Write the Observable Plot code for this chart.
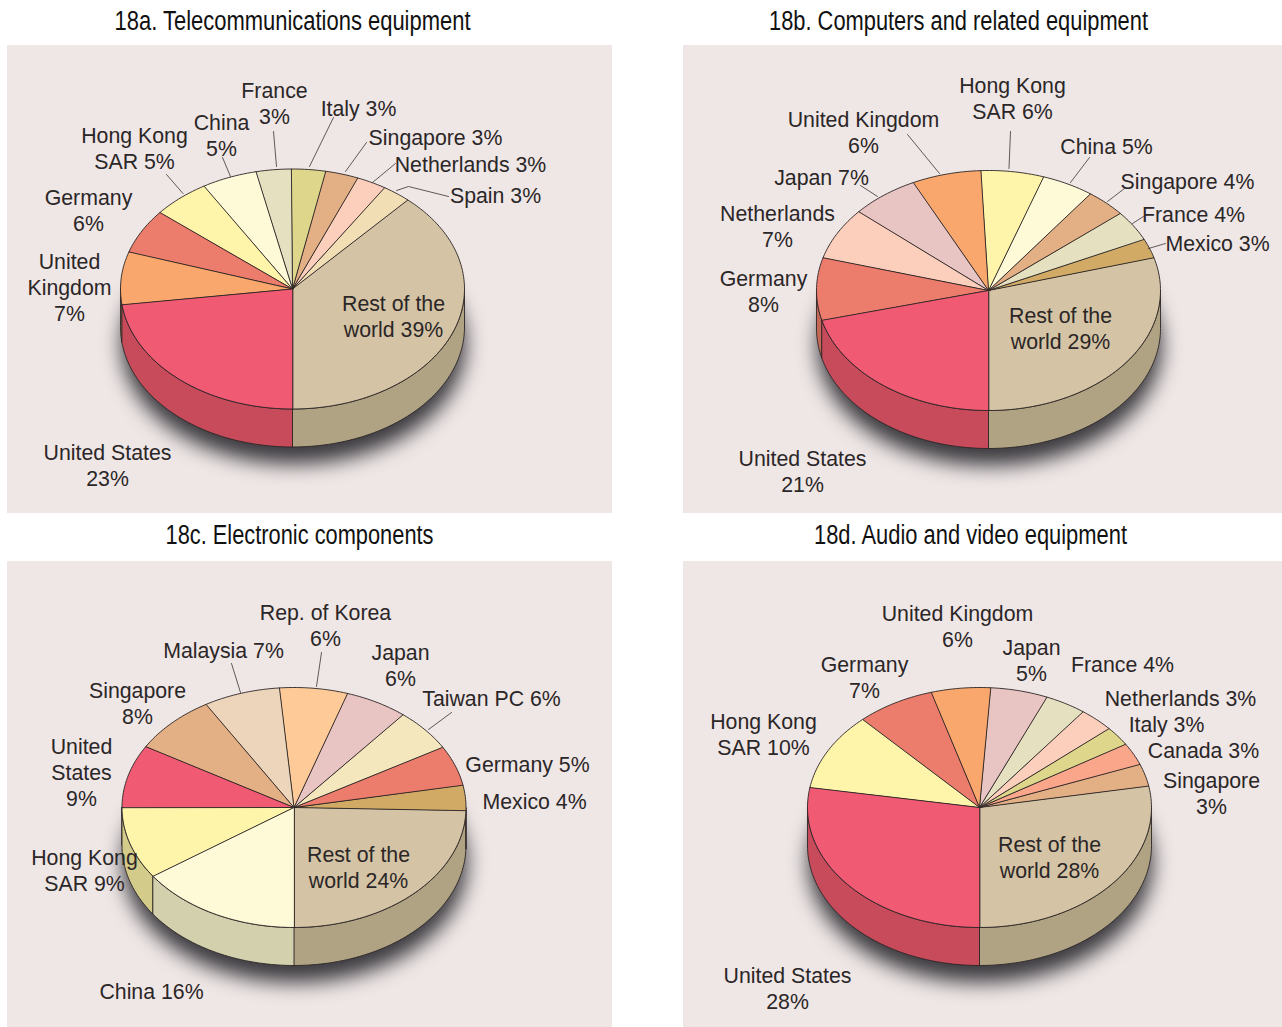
<!DOCTYPE html>
<html>
<head>
<meta charset="utf-8">
<style>html,body{margin:0;padding:0;background:#fff}svg{display:block}</style>
<script src="https://cdn.jsdelivr.net/npm/d3@7"></script>
<script src="https://cdn.jsdelivr.net/npm/@observablehq/plot@0.6"></script>
</head>
<body>
<div id="chart"></div>
<script>
// ---- Data: slice order runs counter-clockwise from the front of each pie.
// Shares (the labels show them rounded). ----
const namesA = ["Rest of the world","Spain","Netherlands","Singapore","Italy","France","China","Hong Kong SAR","Germany","United Kingdom","United States"];
const valuesA = [38.3,2.7,2.8,3.1,3.2,3.3,5.2,5.4,6.0,7.1,22.9];
const namesB = ["Rest of the world","Mexico","France","Singapore","China","Hong Kong SAR","United Kingdom","Japan","Netherlands","Germany","United States"];
const valuesB = [29.4,2.6,4.1,3.8,4.9,5.9,6.5,6.4,7.0,8.4,21.0];
const namesC = ["Rest of the world","Mexico","Germany","Taiwan PC","Japan","Rep. of Korea","Malaysia","Singapore","United States","Hong Kong SAR","China"];
const valuesC = [24.6,3.4,5.4,5.7,5.9,6.4,7.2,8.0,8.5,9.7,15.3];
const namesD = ["Rest of the world","Singapore","Canada","Italy","Netherlands","France","Japan","United Kingdom","Germany","Hong Kong SAR","United States"];
const valuesD = [28.0,3.0,3.0,2.6,3.3,3.9,5.4,5.6,7.4,10.5,27.8];

const titles = ["18a. Telecommunications equipment","18b. Computers and related equipment","18c. Electronic components","18d. Audio and video equipment"];

const labelsA = ["Rest of the\nworld 39%","Spain 3%","Netherlands 3%","Singapore 3%","Italy 3%","France\n3%","China\n5%","Hong Kong\nSAR 5%","Germany\n6%","United\nKingdom\n7%","United States\n23%"];
const labelsB = ["Rest of the\nworld 29%","Mexico 3%","France 4%","Singapore 4%","China 5%","Hong Kong\nSAR 6%","United Kingdom\n6%","Japan 7%","Netherlands\n7%","Germany\n8%","United States\n21%"];
const labelsC = ["Rest of the\nworld 24%","Mexico 4%","Germany 5%","Taiwan PC 6%","Japan\n6%","Rep. of Korea\n6%","Malaysia 7%","Singapore\n8%","United\nStates\n9%","Hong Kong\nSAR 9%","China 16%"];
const labelsD = ["Rest of the\nworld 28%","Singapore\n3%","Canada 3%","Italy 3%","Netherlands 3%","France 4%","Japan\n5%","United Kingdom\n6%","Germany\n7%","Hong Kong\nSAR 10%","United States\n28%"];

// ---- Colours ----
const colorOf = {
  "Rest of the world":"#d4c4a5","United States":"#f05a72","United Kingdom":"#f9a76c","Germany":"#ec7c6b",
  "Hong Kong SAR":"#fef5ab","China":"#fefad8","Singapore":"#e3af85","Netherlands":"#fccfbc","Japan":"#e8c4c3",
  "Mexico":"#d1ab65","Malaysia":"#edd5bc","Rep. of Korea":"#fecb98","Taiwan PC":"#f4e6bd","Canada":"#f9a68b",
  "France":"#e5e0bf","Italy":"#ddd68b","Spain":"#f1deb5"
};

// ---- Layout ----
const panelBoxes = [[7,612,45,513],[683,1282,45,513],[7,612,561,1027],[683,1282,561,1027]];
const pieCentres = [[292,288.5],[988,290],[293.5,807],[979,807]];
const rx = 172, ry = 120, depth = 38;
const titleX = [292,958,299,970], titleY = [21,21,535,535];
const titleWidths = [356,379,268,313];

const labelXA = [393,495,470,435,358,274,221,134,88,69,107];
const labelYA = [315,194,163,136,107,102,134,147,209,286,464];
const labelXB = [1060,1217,1193,1187,1106,1012,863,821,777,763,802];
const labelYB = [327,242,213,180,145,97,131,176,225,290,470];
const labelXC = [358,534,527,491,400,325,223,137,81,84,151];
const labelYC = [866,800,763,697,664,624,649,702,771,869,990];
const labelXD = [1049,1211,1203,1166,1180,1122,1031,957,864,763,787];
const labelYD = [856,792,749,723,697,663,659,625,676,733,987];

const leaders = [
  [[273,131],[276,166]],[[333,117],[309,166]],[[366,142],[345,171]],[[395,163],[372,182]],
  [[448,196],[408,186],[396,190]],[[222,157],[230,176]],[[166,174],[182.5,193]],
  [[907,134],[939,173]],[[1010,131],[1008.5,168]],[[1089,157],[1070,182]],[[1124,188],[1107,201]],
  [[1143,216],[1132,223]],[[1165,243],[1148,248]],[[860,185],[877,196]],
  [[321,652],[316,686]],[[231,663],[240,692]],[[451,712],[428,729]]
];

// ---- Build pie geometry from the values ----
const panels = [
  {names:namesA, values:valuesA, labels:labelsA, lx:labelXA, ly:labelYA},
  {names:namesB, values:valuesB, labels:labelsB, lx:labelXB, ly:labelYB},
  {names:namesC, values:valuesC, labels:labelsC, lx:labelXC, ly:labelYC},
  {names:namesD, values:valuesD, labels:labelsD, lx:labelXD, ly:labelYD}
];
const rad = d => d * Math.PI / 180;
function arc(c, a0, a1, dy = 0) {
  const n = Math.max(1, Math.ceil(Math.abs(a1 - a0) / 1.5));
  return d3.range(n + 1).map(i => {
    const a = rad(a0 + (a1 - a0) * i / n);
    return {x: c[0] + rx * Math.cos(a), y: c[1] - ry * Math.sin(a) + dy};
  });
}
function darker(color) {
  const c = d3.rgb(color);
  return d3.rgb(c.r * 0.83, c.g * 0.83, c.b * 0.8).formatHex();
}
const tops = [], walls = [], shadows = [], texts = [];
panels.forEach((p, pi) => {
  const c = pieCentres[pi], total = d3.sum(p.values);
  let acc = 0;
  p.values.forEach((v, i) => {
    const a0 = -90 + 360 * acc / total, a1 = a0 + 360 * v / total;
    acc += v;
    const id = `${pi}-${i}`, color = colorOf[p.names[i]];
    [{x:c[0], y:c[1]}, ...arc(c, a0, a1)].forEach(q => tops.push({...q, id, color}));
    [[-90,0],[180,270]].forEach(([lo, hi], k) => {
      const s = Math.max(a0, lo), e = Math.min(a1, hi);
      if (e > s) {
        [...arc(c, s, e), ...arc(c, e, s, depth)].forEach(q => walls.push({...q, id:`${id}-${k}`, color: darker(color)}));
      }
    });
    texts.push({text:p.labels[i], x:p.lx[i], y:p.ly[i]});
  });
  arc([c[0] + 1, c[1] + 17], 0, 360, depth).forEach(q => shadows.push({...q, id:pi}));
});
const boxes = panelBoxes.map(([x1,x2,y1,y2]) => ({x1,x2,y1,y2}));
const leaderPts = leaders.flatMap((pts, id) => pts.map(([x,y]) => ({x,y,id})));
const titleRows = titles.map((text,i) => ({text, x:titleX[i], y:titleY[i]}));

const chart = Plot.plot({
  width:1282, height:1027, margin:0,
  x:{domain:[0,1282], range:[0,1282], axis:null},
  y:{domain:[0,1027], range:[0,1027], axis:null},
  color:{type:"identity"},
  style:{background:"#fff"},
  marks:[
    Plot.rect(boxes, {x1:"x1", x2:"x2", y1:"y1", y2:"y2", fill:"#efe7e6"}),
    Plot.line(shadows, {x:"x", y:"y", z:"id", fill:"#1c1c22", stroke:"none", curve:"linear-closed", imageFilter:"blur(10px)", fillOpacity:0.85}),
    Plot.line(walls, {x:"x", y:"y", z:"id", fill:"color", stroke:"#2d2626", strokeWidth:0.9, curve:"linear-closed"}),
    Plot.line(tops, {x:"x", y:"y", z:"id", fill:"color", stroke:"#2d2626", strokeWidth:0.9, curve:"linear-closed"}),
    Plot.line(leaderPts, {x:"x", y:"y", z:"id", stroke:"#3a3434", strokeWidth:0.8}),
    Plot.text(texts, {x:"x", y:"y", text:"text", fontSize:21.3, lineHeight:1.22, fill:"#2b2627", fontFamily:"'Liberation Sans',Arial,sans-serif", textAnchor:"middle", lineAnchor:"middle"}),
    Plot.text(titleRows, {x:"x", y:"y", text:"text", fontSize:27, fill:"#111", fontFamily:"'Liberation Sans',sans-serif", textAnchor:"middle", lineAnchor:"middle",
      render(index, scales, values, dimensions, context, next) {
        const g = next(index, scales, values, dimensions, context);
        d3.select(g).selectAll("text").attr("textLength", i => titleWidths[i]).attr("lengthAdjust", "spacingAndGlyphs");
        return g;
      }})
  ]
});
document.getElementById("chart").append(chart);
</script>
</body>
</html>
